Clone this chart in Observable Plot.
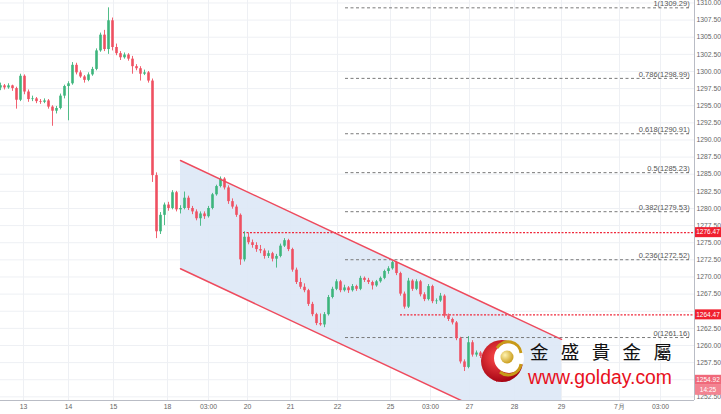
<!DOCTYPE html>
<html><head><meta charset="utf-8">
<script src="https://cdn.jsdelivr.net/npm/d3@7"></script>
<script src="https://cdn.jsdelivr.net/npm/@observablehq/plot@0.6"></script>
<style>body{margin:0;background:#fff}</style></head>
<body><div id="chart"></div>
<script>
// OHLC candles [open, high, low, close]
const candles = [
[1297.6,1298.3,1297.2,1297.9],[1297.9,1298.1,1297.3,1297.6],[1297.6,1298.2,1297.4,1297.9],[1297.9,1298.0,1297.1,1297.5],
[1297.5,1297.7,1294.5,1295.8],[1295.8,1299.6,1295.6,1299.3],[1299.3,1299.5,1296.6,1297.0],[1297.0,1297.3,1295.5,1295.9],
[1295.9,1296.4,1295.6,1296.0],[1296.0,1296.2,1295.3,1295.6],[1295.6,1295.9,1295.2,1295.5],[1295.5,1296.0,1295.3,1295.7],
[1295.7,1295.9,1294.5,1294.8],[1294.8,1295.0,1292.0,1294.2],[1294.2,1294.9,1293.8,1294.6],[1294.6,1296.7,1294.4,1296.4],
[1296.4,1298.0,1296.0,1297.8],[1297.8,1298.5,1292.8,1298.2],[1298.2,1301.3,1298.0,1300.9],[1300.9,1301.2,1299.5,1299.8],
[1299.8,1300.1,1299.0,1299.2],[1299.2,1299.4,1298.3,1298.7],[1298.7,1299.8,1298.5,1299.5],[1299.5,1300.6,1299.3,1300.3],
[1300.3,1303.3,1300.1,1303.0],[1303.0,1305.6,1302.8,1305.3],[1305.3,1306.0,1302.9,1303.2],[1303.2,1309.29,1302.5,1307.4],
[1307.4,1307.8,1303.0,1303.5],[1303.5,1304.0,1302.3,1302.6],[1302.6,1302.9,1301.6,1302.0],[1302.0,1302.7,1301.8,1302.4],
[1302.4,1302.6,1301.5,1301.8],[1301.8,1302.2,1299.6,1300.7],[1300.7,1301.0,1300.1,1300.4],[1300.4,1300.7,1298.6,1299.6],
[1299.6,1300.2,1299.4,1299.8],[1299.8,1300.0,1298.3,1298.6],[1298.6,1298.9,1283.8,1284.8],[1284.8,1285.2,1275.6,1276.6],
[1276.6,1279.4,1276.2,1279.0],[1279.0,1280.8,1277.5,1280.5],[1280.5,1280.9,1279.6,1280.0],[1280.0,1282.6,1279.8,1282.3],
[1282.3,1282.5,1279.5,1279.8],[1279.8,1280.4,1279.2,1280.0],[1280.0,1282.4,1279.8,1281.5],[1281.5,1281.8,1279.7,1280.0],
[1280.0,1280.3,1279.1,1279.5],[1279.5,1279.8,1278.2,1278.5],[1278.5,1279.5,1277.4,1279.2],[1279.2,1279.5,1278.4,1278.8],
[1278.8,1280.3,1278.6,1280.0],[1280.0,1282.2,1279.8,1282.0],[1282.0,1283.4,1281.8,1283.2],[1283.2,1284.6,1283.0,1284.3],
[1284.3,1284.5,1282.7,1283.0],[1283.0,1283.3,1280.6,1281.0],[1281.0,1281.4,1279.9,1280.2],[1280.2,1280.5,1278.7,1279.0],
[1279.0,1279.2,1271.7,1272.5],[1272.5,1276.6,1272.2,1275.8],[1275.8,1276.4,1274.7,1275.0],[1275.0,1275.4,1274.2,1274.6],
[1274.6,1275.0,1273.6,1274.0],[1274.0,1274.6,1273.4,1273.8],[1273.8,1274.1,1272.6,1273.0],[1273.0,1273.8,1272.7,1273.4],
[1273.4,1273.6,1272.2,1272.6],[1272.6,1273.3,1271.3,1273.0],[1273.0,1274.8,1272.8,1274.5],[1274.5,1275.6,1274.3,1275.3],
[1275.3,1275.5,1273.7,1274.0],[1274.0,1274.2,1270.7,1271.0],[1271.0,1271.3,1268.9,1269.2],[1269.2,1269.8,1268.2,1268.5],
[1268.5,1269.0,1267.7,1268.0],[1268.0,1268.2,1265.7,1266.0],[1266.0,1266.3,1264.2,1264.5],[1264.5,1264.7,1262.9,1263.2],
[1263.2,1264.6,1262.8,1263.0],[1263.0,1264.8,1262.6,1264.5],[1264.5,1267.3,1264.3,1267.0],[1267.0,1268.5,1266.8,1268.2],
[1268.2,1269.6,1268.0,1269.3],[1269.3,1269.5,1267.7,1268.0],[1268.0,1268.8,1267.8,1268.4],[1268.4,1268.6,1267.6,1268.0],
[1268.0,1268.9,1267.8,1268.6],[1268.6,1268.8,1267.9,1268.2],[1268.2,1270.1,1268.0,1269.8],[1269.8,1270.0,1269.2,1269.5],
[1269.5,1269.8,1268.9,1269.2],[1269.2,1269.4,1268.1,1268.7],[1268.7,1269.5,1268.5,1269.3],[1269.3,1270.0,1269.1,1269.8],
[1269.8,1271.0,1269.6,1270.8],[1270.8,1271.5,1270.4,1271.2],[1271.2,1272.3,1271.0,1272.1],[1272.1,1272.2,1270.2,1270.5],
[1270.5,1270.7,1267.2,1267.5],[1267.5,1267.8,1265.3,1265.6],[1265.6,1269.8,1265.4,1269.4],[1269.4,1269.6,1267.9,1268.2],
[1268.2,1269.6,1268.0,1269.3],[1269.3,1269.5,1267.1,1267.4],[1267.4,1267.7,1266.4,1266.7],[1266.7,1268.9,1266.5,1268.6],
[1268.6,1268.8,1266.1,1266.4],[1266.4,1266.8,1266.0,1266.5],[1266.5,1267.6,1266.3,1267.2],[1267.2,1267.4,1264.0,1264.3],
[1264.3,1264.6,1263.5,1263.8],[1263.8,1264.0,1263.0,1263.3],[1263.3,1263.5,1260.7,1261.0],[1261.0,1261.2,1257.3,1257.6],
[1257.6,1257.9,1256.2,1256.8],[1256.8,1261.3,1256.6,1260.4],[1260.4,1260.7,1258.3,1258.6],[1258.6,1259.2,1258.3,1258.9],
[1258.9,1259.1,1258.1,1258.4],[1258.4,1258.6,1256.7,1257.0],[1257.0,1257.2,1255.5,1255.8],[1255.8,1256.3,1255.0,1255.3],
[1255.3,1255.6,1254.6,1254.92]
];
const xTickIdx = [5.75,17,28.25,41.75,52,61.75,72.5,84.25,97.5,107.5,117.25,128.5,140.25,154.75,165];
const xTickLabels = ["13","14","15","18","03:00","20","21","22","25","03:00","27","28","29","7月","03:00"];
const yTicks = [1252.5,1255,1257.5,1260,1262.5,1265,1267.5,1270,1272.5,1275,1277.5,1280,1282.5,1285,1287.5,1290,1292.5,1295,1297.5,1300,1302.5,1305,1307.5,1310];
// labels hidden under the price boxes in the reference
const yHiddenLabels = [1255, 1265];
const fibRatios = ["1","0.786","0.618","0.5","0.382","0.236","0"];
const fibLevels = [1309.29,1298.99,1290.91,1285.23,1279.53,1272.52,1261.16];
const fibSpan = [86.25, 172.3];
const channelX = [45, 140.25];
const channelUpper = [1287.0, 1260.9];
const channelLower = [1271.2, 1245.1];
const resistLevels = [1276.47, 1264.47];
const resistStart = [60.75, 100];
const lastPrice = 1254.92;
const countdown = "14:25";
const brandName = "金 盛 貴 金 屬";
const brandUrl = "www.golday.com";

const GREEN = "#3db57c", RED = "#ef5061";
const data = candles.map(([o,h,l,c],i)=>({i,o,h,l,c,col: c>=o?GREEN:RED}));
const channel = channelX.map((x,k)=>({x, hi: channelUpper[k], lo: channelLower[k]}));
const fibs = fibLevels.map((v,k)=>({v, x1: fibSpan[0], x2: fibSpan[1], label: `${fibRatios[k]}(${v.toFixed(2)})`}));
const resist = resistLevels.map((v,k)=>({v, x1: resistStart[k], x2: 173.5}));
const xLab = new Map(xTickIdx.map((d,k)=>[d, xTickLabels[k]]));
const yLabelTicks = yTicks.filter(d => !yHiddenLabels.includes(d));
const gridC = "#eef0f4";

const svg = Plot.plot({
  width: 721, height: 414, marginLeft: 0, marginRight: 27, marginTop: 0, marginBottom: 14,
  style: {fontFamily: "'Liberation Sans', Arial, sans-serif", background: "#fff", color: "#666"},
  x: {domain: [0, 173.5], axis: null},
  y: {domain: [1251.97, 1310.36], axis: null},
  marks: [
    Plot.gridY(yTicks, {stroke: gridC, strokeOpacity: 1}),
    Plot.gridX(xTickIdx, {stroke: gridC, strokeOpacity: 1}),
    Plot.areaY(channel, {x: "x", y1: "lo", y2: "hi", fill: "#dde8f6", fillOpacity: 0.9, clip: true}),
    Plot.ruleY(fibs, {y: "v", x1: "x1", x2: "x2", stroke: "#7a7a7a", strokeDasharray: "3,2.5", strokeWidth: 1}),
    Plot.text(fibs, {y: "v", x: "x2", text: "label", textAnchor: "end", dy: -4, fontSize: 7.5, fill: "#555"}),
    Plot.ruleY(resist, {y: "v", x1: "x1", x2: "x2", stroke: "#f02a3c", strokeDasharray: "2,1.5", strokeWidth: 1.3}),
    Plot.ruleX(data, {x: "i", y1: "l", y2: "h", stroke: "col", strokeWidth: 0.9}),
    Plot.ruleX(data, {x: "i", y1: "o", y2: "c", stroke: "col", strokeWidth: 2.6}),
    Plot.line(channel, {x: "x", y: "hi", stroke: "#ee4a5d", strokeWidth: 1.5, clip: true}),
    Plot.line(channel, {x: "x", y: "lo", stroke: "#ee4a5d", strokeWidth: 1.5, clip: true}),
    Plot.ruleX([173.5], {stroke: "#b9bcc5"}),
    Plot.ruleY([1251.97], {stroke: "#b9bcc5"}),
    Plot.axisY(yLabelTicks, {anchor: "right", tickFormat: d => d.toFixed(2), tickSize: 0, tickPadding: 2, fontSize: 6.8, fill: "#666"}),
    Plot.axisX(xTickIdx, {anchor: "bottom", tickFormat: d => xLab.get(d), tickSize: 0, tickPadding: 4, fontSize: 6.8, fill: "#666"})
  ]
});
document.getElementById("chart").append(svg);

const ys = svg.scale("y");
const s = d3.select(svg);
function priceBox(v, txt, fill, yOff) {
  const y = ys.apply(v) + (yOff||0);
  s.append("rect").attr("x", 695).attr("y", y-5).attr("width", 26).attr("height", 10).attr("fill", fill);
  s.append("text").attr("x", 708).attr("y", y).attr("dy", "0.35em").attr("text-anchor", "middle")
    .attr("font-size", 6.5).attr("font-family", "'Liberation Sans', Arial, sans-serif").attr("fill", "#fff").text(txt);
}
resistLevels.forEach(v => priceBox(v, v.toFixed(2), "#f0202f"));
priceBox(lastPrice, lastPrice.toFixed(2), "#f0697a");
priceBox(lastPrice, countdown, "#f38391", 10);

// watermark logo
const defs = s.append("defs");
const rg = defs.append("radialGradient").attr("id","redg").attr("cx","40%").attr("cy","40%").attr("r","65%");
rg.append("stop").attr("offset","0%").attr("stop-color","#ff4b4b");
rg.append("stop").attr("offset","100%").attr("stop-color","#a00010");
const gg = defs.append("radialGradient").attr("id","goldg").attr("cx","35%").attr("cy","35%").attr("r","70%");
gg.append("stop").attr("offset","0%").attr("stop-color","#fff3b0");
gg.append("stop").attr("offset","100%").attr("stop-color","#c89a18");
const g = s.append("g").attr("text-anchor", "start");
g.append("circle").attr("cx", 502).attr("cy", 361).attr("r", 21).attr("fill", "url(#redg)");
g.append("circle").attr("cx", 509).attr("cy", 358).attr("r", 15).attr("fill", "#fff");
g.append("path").attr("d", "M497,348 A13,13 0 0 1 521,353").attr("fill","none").attr("stroke","#c89a18").attr("stroke-width",3);
g.append("path").attr("d", "M521,364 A13,13 0 0 1 500,372").attr("fill","none").attr("stroke","#c89a18").attr("stroke-width",3);
g.append("circle").attr("cx", 507).attr("cy", 357).attr("r", 6.5).attr("fill", "url(#goldg)");
g.append("text").attr("x", 530).attr("y", 359).attr("font-size", 18.5).attr("font-family", "'Noto Sans CJK TC', sans-serif")
  .attr("text-anchor", "start").attr("fill", "#111").attr("textLength", 142).attr("lengthAdjust", "spacing").text(brandName);
g.append("text").attr("x", 528).attr("y", 384).attr("font-size", 20).attr("font-family", "'Liberation Sans', Arial, sans-serif")
  .attr("text-anchor", "start").attr("fill", "#e8101c").attr("textLength", 144).attr("lengthAdjust", "spacingAndGlyphs").text(brandUrl);
</script>
</body></html>
